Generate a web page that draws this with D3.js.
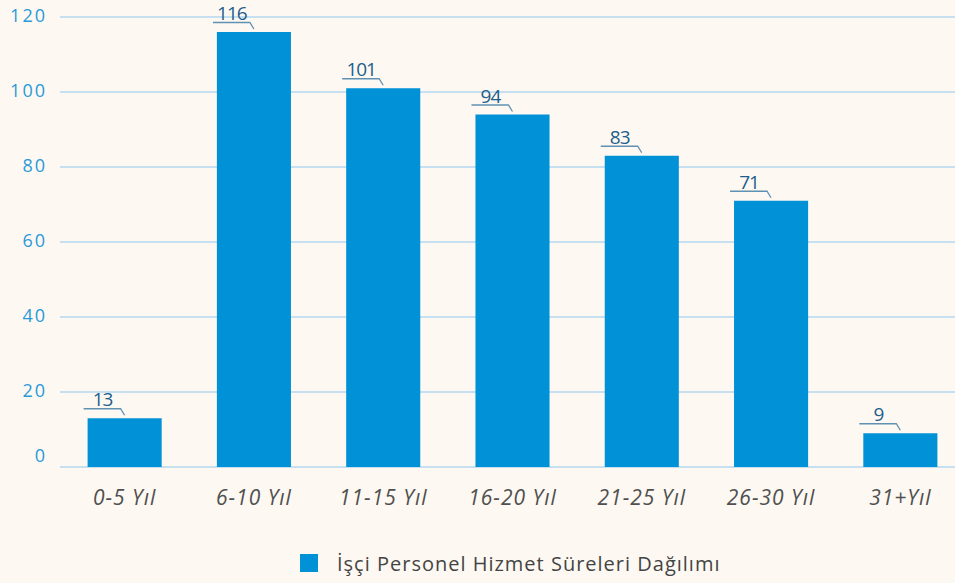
<!DOCTYPE html>
<html><head><meta charset="utf-8">
<script src="https://cdn.jsdelivr.net/npm/d3@7"></script>
<style>
body{margin:0;background:#fdf9f2;}
svg{display:block;}
</style></head>
<body>
<svg id="c" width="955" height="583"></svg>
<script>
const categories = ["0-5 Yıl","6-10 Yıl","11-15 Yıl","16-20 Yıl","21-25 Yıl","26-30 Yıl","31+Yıl"];
const values = [13,116,101,94,83,71,9];
const yTicks = [0,20,40,60,80,100,120];
const seriesName = "İşçi Personel Hizmet Süreleri Dağılımı";

const svg = d3.select("#c");
svg.append("rect").attr("width",955).attr("height",583).attr("fill","#fdf9f2");

const x = d3.scaleBand().domain(categories).range([60,965]).paddingInner(0.427).paddingOuter(0.2135);
const y = d3.scaleLinear().domain([0,120]).range([467,17]);

// gridlines
svg.append("g").selectAll("line").data(yTicks).join("line")
  .attr("x1",60).attr("x2",955)
  .attr("y1",d=>y(d)).attr("y2",d=>y(d))
  .attr("stroke","#c6e0f2").attr("stroke-width",2);

// y axis labels
const yAxis = d3.axisLeft(y).tickValues(yTicks).tickSize(0).tickPadding(0);
const gy = svg.append("g").attr("transform","translate(47,-1)").call(yAxis);
gy.select(".domain").remove();
gy.selectAll("text").attr("fill","#2b9ad8").attr("font-family","Open Sans, sans-serif")
  .attr("font-size",18).attr("letter-spacing","2px")
  .attr("y",d=>d===0?-10:0);

// bars
svg.append("g").selectAll("rect").data(values).join("rect")
  .attr("x",(d,i)=>x(categories[i]))
  .attr("width",x.bandwidth())
  .attr("y",d=>y(d))
  .attr("height",d=>y(0)-y(d))
  .attr("fill","#0091d7");

// value labels with leader lines
const lab = svg.append("g").selectAll("g").data(values).join("g")
  .attr("transform",(d,i)=>`translate(${x(categories[i])},${y(d)})`);
lab.append("path")
  .attr("d","M-4,-9.5 H33 L37,-3")
  .attr("fill","none").attr("stroke","#5f91b3").attr("stroke-width",1.3);
lab.append("text").attr("x",15).attr("y",-12).attr("text-anchor","middle")
  .attr("font-family","Open Sans, sans-serif").attr("font-size",19).attr("letter-spacing","-1px")
  .attr("fill","#1d5e8c").text(d=>d);

// x axis labels
const xAxis = d3.axisBottom(x).tickSize(0).tickPadding(0);
const gx = svg.append("g").attr("transform","translate(0,492)").call(xAxis);
gx.select(".domain").remove();
gx.selectAll("text").attr("fill","#505050").attr("font-family","Open Sans, sans-serif")
  .attr("font-style","italic").attr("font-size",21).attr("letter-spacing","1px").attr("dy","0.6em");

// legend
const lg = svg.append("g");
lg.append("rect").attr("x",300).attr("y",554).attr("width",18).attr("height",18).attr("fill","#0091d7");
lg.append("text").attr("x",337).attr("y",571).attr("font-family","Open Sans, sans-serif")
  .attr("font-size",20).attr("letter-spacing","1px").attr("fill","#444").text(seriesName);
</script>
</body></html>
